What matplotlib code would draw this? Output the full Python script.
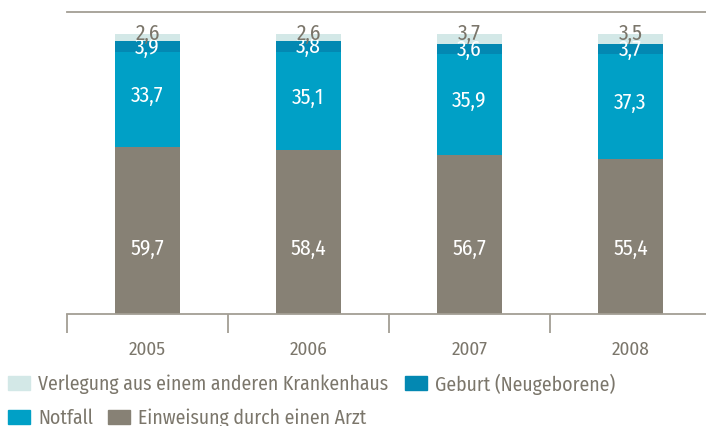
import matplotlib
matplotlib.use("Agg")
import matplotlib.pyplot as plt
from matplotlib import font_manager
from matplotlib.patches import Rectangle

years = ["2005", "2006", "2007", "2008"]
einweisung = [59.7, 58.4, 56.7, 55.4]
notfall = [33.7, 35.1, 35.9, 37.3]
geburt = [3.9, 3.8, 3.6, 3.7]
verlegung = [2.6, 2.6, 3.7, 3.5]

series = [
    ("Einweisung durch einen Arzt", einweisung, "#878175"),
    ("Notfall", notfall, "#00a0c6"),
    ("Geburt (Neugeborene)", geburt, "#0388b2"),
    ("Verlegung aus einem anderen Krankenhaus", verlegung, "#d3e8e7"),
]

available = {f.name for f in font_manager.fontManager.ttflist}
prefs = ["Fira Sans Condensed", "PT Sans Narrow", "Fira Sans", "Encode Sans Semi Condensed",
         "Asap Condensed", "Liberation Sans Narrow", "Lato"]
fam = next((p for p in prefs if p in available), "DejaVu Sans")
plt.rcParams['font.family'] = [fam, 'DejaVu Sans']
FS_TICK = 13.8
FS_VAL = 15.5
FS_LEG = 14.2
txt = "#7b766b"
axc = "#a39e94"

W, H = 706, 427
fig = plt.figure(figsize=(W / 100, H / 100), dpi=100)
ax = fig.add_axes([67 / W, 1 - 315 / H, (711 - 67) / W, (315 - 13) / H])

x = list(range(len(years)))
bottom = [0.0] * len(years)
for name, vals, col in series:
    ax.bar(x, vals, bottom=bottom, width=0.404, color=col, edgecolor="none", zorder=2)
    for i, v in enumerate(vals):
        lab = f"{v:.1f}".replace(".", ",")
        if name.startswith("Einweisung"):
            y, c = 23.5, "white"
        elif name == "Notfall":
            y, c = bottom[i] + v / 2 + 1.6, "white"
        elif name.startswith("Geburt"):
            y, c = bottom[i] + v / 2 + 0.1, "white"
        else:
            y, c = bottom[i] + v + 0.5, txt
        ax.text(i, y, lab, ha="center", va="center", color=c, fontsize=FS_VAL, zorder=3)
    bottom = [b + v for b, v in zip(bottom, vals)]

ax.set_xlim(-0.5, 3.5)
ax.set_ylim(0, 107.7)
for s in ["left", "right"]:
    ax.spines[s].set_visible(False)
for s in ["top", "bottom"]:
    ax.spines[s].set_color(axc)
    ax.spines[s].set_linewidth(1.3)
ax.set_yticks([])
ax.set_xticks([-0.5, 0.5, 1.5, 2.5, 3.5])
ax.set_xticklabels([])
ax.set_xticks(x, minor=True)
ax.set_xticklabels(years, minor=True)
ax.tick_params(axis="x", which="major", length=14, width=1.3, color=axc, direction="out")
ax.tick_params(axis="x", which="minor", length=0, pad=19, labelsize=FS_TICK, labelcolor=txt)

def leg(x0, yc, name, col):
    fig.patches.append(Rectangle((x0 / W, 1 - (yc + 7) / H), 22 / W, 14 / H,
                                 transform=fig.transFigure, color=col, figure=fig))
    fig.text((x0 + 30) / W, 1 - yc / H, name, ha="left", va="center",
             color=txt, fontsize=FS_LEG)

cols = {n: c for n, _, c in series}
leg(8, 384, series[3][0], cols[series[3][0]])
leg(405, 384, series[2][0], cols[series[2][0]])
leg(8, 418, series[1][0], cols[series[1][0]])
leg(108, 418, series[0][0], cols[series[0][0]])

fig.savefig("out.png", dpi=100)
